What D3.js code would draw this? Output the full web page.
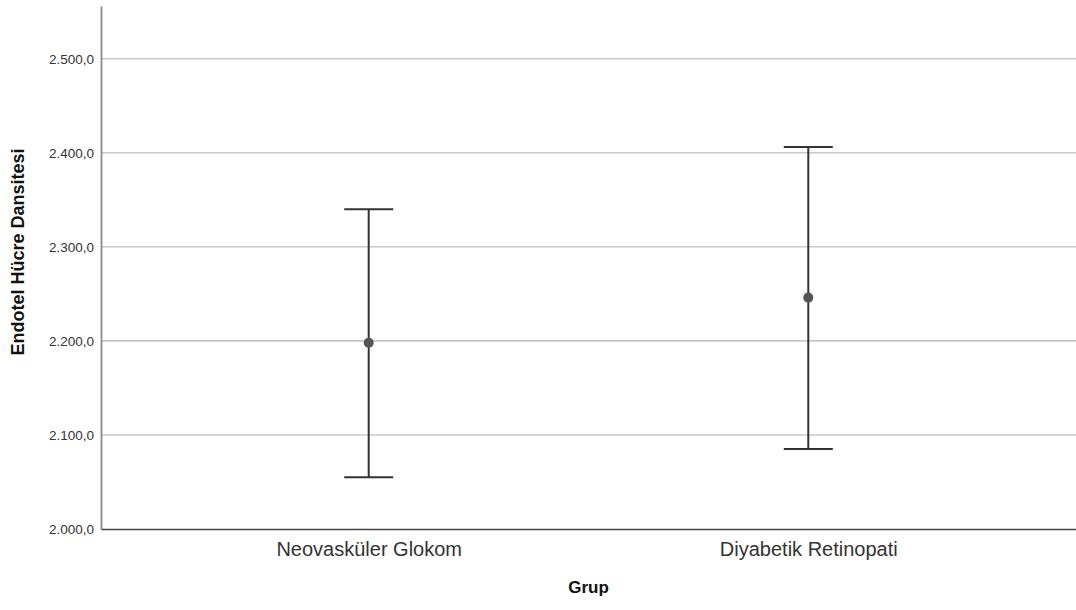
<!DOCTYPE html>
<html>
<head>
<meta charset="utf-8">
<script src="https://cdn.jsdelivr.net/npm/d3@7"></script>
<style>
  body { margin: 0; background: #fff; }
  svg { display: block; font-family: Arial, "Liberation Sans", sans-serif; }
</style>
</head>
<body>
<div id="chart"></div>
<script>
// gruplar ve ortalama / %95 GA degerleri
var groups = ["Neovasküler Glokom", "Diyabetik Retinopati"];
var means = [2198, 2246];
var lower = [2055, 2085];
var upper = [2340, 2406];
var yTicks = [2000, 2100, 2200, 2300, 2400, 2500];

var W = 1076, H = 610;
var pLeft = 101, pRight = 1076, pTop = 6, pBottom = 529;

var svg = d3.select("#chart").append("svg").attr("width", W).attr("height", H);

var x = d3.scalePoint().domain(groups).range([pLeft, pRight]).padding(0.609);
var y = d3.scaleLinear().domain([2000, 2556]).range([pBottom, pTop]);

var fmt = function (v) {
    return d3.format(",.1f")(v).replace(/,/g, "#").replace(".", ",").replace(/#/g, ".");
};

// grid lines
svg.append("g")
    .selectAll("line")
    .data(yTicks.slice(1))
    .enter()
    .append("line")
    .attr("x1", pLeft)
    .attr("x2", pRight)
    .attr("y1", function (d) { return y(d); })
    .attr("y2", function (d) { return y(d); })
    .attr("stroke", "#c8c8c8")
    .attr("stroke-width", 1.6);

// y axis
var yAxis = svg.append("g")
    .attr("transform", "translate(" + pLeft + ",0)")
    .call(d3.axisLeft(y).tickValues(yTicks).tickFormat(fmt).tickSize(0).tickPadding(7));
yAxis.select(".domain").attr("stroke", "#8c8c8c").attr("stroke-width", 1.8);
yAxis.selectAll("text").attr("font-size", "13.5px").attr("fill", "#333")
    .attr("font-family", "Arial, 'Liberation Sans', sans-serif");

// x axis
var xAxis = svg.append("g")
    .attr("transform", "translate(0," + pBottom + ")")
    .call(d3.axisBottom(x).tickSize(0).tickPadding(13));
xAxis.select(".domain").attr("stroke", "#444").attr("stroke-width", 1.5);
xAxis.selectAll("text").attr("font-size", "20px").attr("fill", "#333")
    .attr("font-family", "Arial, 'Liberation Sans', sans-serif");

// axis titles
svg.append("text")
    .attr("x", (pLeft + pRight) / 2)
    .attr("y", 593)
    .attr("text-anchor", "middle")
    .attr("font-size", "17px")
    .attr("font-weight", "bold")
    .attr("fill", "#111")
    .text("Grup");

svg.append("text")
    .attr("transform", "translate(24,252) rotate(-90)")
    .attr("text-anchor", "middle")
    .attr("font-size", "18px")
    .attr("font-weight", "bold")
    .attr("fill", "#111")
    .text("Endotel Hücre Dansitesi");

// error bars
var bars = svg.append("g")
    .selectAll("g")
    .data(groups)
    .enter()
    .append("g");

bars.append("line")
    .attr("x1", function (d) { return x(d); })
    .attr("x2", function (d) { return x(d); })
    .attr("y1", function (d, i) { return y(lower[i]); })
    .attr("y2", function (d, i) { return y(upper[i]); })
    .attr("stroke", "#333")
    .attr("stroke-width", 2);

bars.append("line")
    .attr("x1", function (d) { return x(d) - 24.5; })
    .attr("x2", function (d) { return x(d) + 24.5; })
    .attr("y1", function (d, i) { return y(upper[i]); })
    .attr("y2", function (d, i) { return y(upper[i]); })
    .attr("stroke", "#333")
    .attr("stroke-width", 2);

bars.append("line")
    .attr("x1", function (d) { return x(d) - 24.5; })
    .attr("x2", function (d) { return x(d) + 24.5; })
    .attr("y1", function (d, i) { return y(lower[i]); })
    .attr("y2", function (d, i) { return y(lower[i]); })
    .attr("stroke", "#333")
    .attr("stroke-width", 2);

bars.append("circle")
    .attr("cx", function (d) { return x(d); })
    .attr("cy", function (d, i) { return y(means[i]); })
    .attr("r", 5)
    .attr("fill", "#555");
</script>
</body>
</html>
